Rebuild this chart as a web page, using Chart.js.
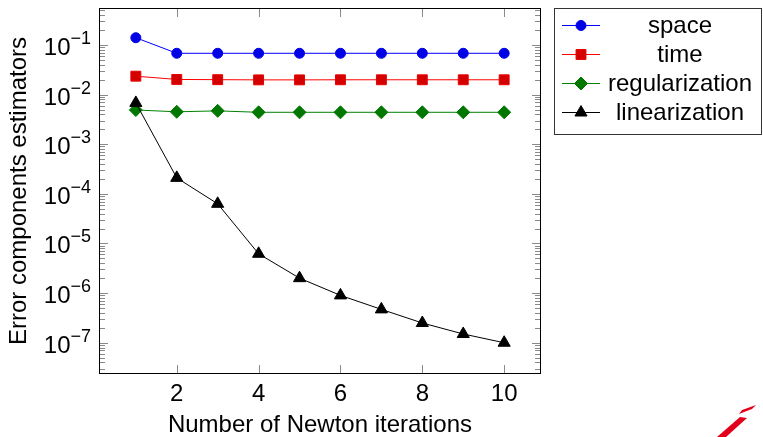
<!DOCTYPE html>
<html>
<head>
<meta charset="utf-8">
<script src="https://cdn.jsdelivr.net/npm/chart.js@4"></script>
<style>
  html, body { margin: 0; padding: 0; background: #fff; }
  #wrap { position: relative; width: 763px; height: 437px; }
  #logo { position: absolute; left: 0; top: 0; pointer-events: none; }
</style>
</head>
<body>
<div id="wrap">
  <canvas id="errChart" width="763" height="437"></canvas>
  <svg id="logo" width="763" height="437">
    <polygon points="717,437 726,437 747,418 740,417" fill="#e3001b"/>
    <polygon points="739,414 742,410 756,405 752,409" fill="#e3001b"/>
  </svg>
</div>
<script>
// values
const iterations = [1, 2, 3, 4, 5, 6, 7, 8, 9, 10];
const spaceEst = [0.14, 0.068, 0.068, 0.068, 0.068, 0.068, 0.068, 0.068, 0.068, 0.068];
const timeEst = [0.0235, 0.0202, 0.0200, 0.0198, 0.0198, 0.0199, 0.0199, 0.0199, 0.0199, 0.0199];
const regEst = [0.0049, 0.0045, 0.0047, 0.0044, 0.0044, 0.0044, 0.0044, 0.0044, 0.0044, 0.0044];
const linEst = [0.0068, 2.1e-4, 6.3e-5, 6.2e-6, 2.0e-6, 9.0e-7, 4.7e-7, 2.5e-7, 1.5e-7, 1.0e-7];
const xTicks = [2, 4, 6, 8, 10];
const yExponents = [-7, -6, -5, -4, -3, -2, -1];

const FONT = '"Liberation Sans", Arial, sans-serif';

function pts(vals) {
    return iterations.map((x, i) => ({ x: x, y: vals[i] }));
}

// draws the pgfplots-like frame, inner ticks, 10^k labels and the legend box
const frame = {
    id: 'frame',
    beforeDatasetsDraw(chart) {
        const ctx = chart.ctx;
        const a = chart.chartArea;
        const xs = chart.scales.x;
        const ys = chart.scales.y;
        ctx.save();
        ctx.strokeStyle = '#8a8a8a';
        ctx.lineWidth = 1;
        ctx.beginPath();
        // x ticks, bottom and top
        xTicks.forEach((v) => {
            const px = Math.round(xs.getPixelForValue(v)) + 0.5;
            ctx.moveTo(px, a.bottom); ctx.lineTo(px, a.bottom - 9);
            ctx.moveTo(px, a.top); ctx.lineTo(px, a.top + 9);
        });
        // y ticks, major and minor, left and right
        for (let k = -8; k <= 0; k++) {
            for (let m = 1; m <= 9; m++) {
                const v = m * Math.pow(10, k);
                if (v < ys.min || v > ys.max) continue;
                const py = Math.round(ys.getPixelForValue(v)) + 0.5;
                const len = m === 1 ? 9 : 6;
                ctx.moveTo(a.left, py); ctx.lineTo(a.left + len, py);
                ctx.moveTo(a.right, py); ctx.lineTo(a.right - len, py);
            }
        }
        ctx.stroke();
        ctx.restore();
    },
    afterDraw(chart) {
        const ctx = chart.ctx;
        const a = chart.chartArea;
        const ys = chart.scales.y;
        ctx.save();
        ctx.strokeStyle = '#000';
        ctx.lineWidth = 1;
        ctx.strokeRect(a.left + 0.5, a.top + 0.5, a.right - a.left - 1, a.bottom - a.top - 1);

        // y tick labels as 10^k
        ctx.fillStyle = '#000';
        ctx.textBaseline = 'alphabetic';
        yExponents.forEach((k) => {
            const py = ys.getPixelForValue(Math.pow(10, k));
            const exp = '\u2212' + Math.abs(k);
            ctx.font = '18px ' + FONT;
            const ew = ctx.measureText(exp).width;
            const rightX = a.left - 8;
            ctx.textAlign = 'left';
            ctx.fillText(exp, rightX - ew, py - 1);
            ctx.font = '24px ' + FONT;
            ctx.textAlign = 'right';
            ctx.fillText('10', rightX - ew, py + 10);
        });

        // legend
        const box = { l: 554.5, t: 8.5, r: 761.5, b: 134.5 };
        ctx.strokeStyle = '#333';
        ctx.strokeRect(box.l, box.t, box.r - box.l, box.b - box.t);
        const rowY = [25, 54, 83, 112];
        ctx.font = '24px ' + FONT;
        ctx.textAlign = 'center';
        ctx.textBaseline = 'middle';
        chart.data.datasets.forEach((ds, i) => {
            const y = rowY[i];
            ctx.strokeStyle = ds.borderColor;
            ctx.lineWidth = 1;
            ctx.beginPath();
            ctx.moveTo(562, y + 0.5);
            ctx.lineTo(600, y + 0.5);
            ctx.stroke();
            ctx.fillStyle = ds.pointBackgroundColor;
            ctx.strokeStyle = ds.pointBorderColor;
            Chart.helpers.drawPoint(ctx, {
                pointStyle: ds.pointStyle,
                radius: ds.pointRadius,
                borderWidth: 1,
                rotation: 0
            }, 581, y + 0.5);
            ctx.fillStyle = '#000';
            ctx.fillText(ds.label, 680, y + 1);
        });
        ctx.restore();
    }
};

const ctx = document.getElementById('errChart');
new Chart(ctx, {
    type: 'line',
    data: {
        datasets: [
            {
                label: 'space',
                data: pts(spaceEst),
                borderColor: '#0000ff',
                pointBackgroundColor: '#0000e6',
                pointBorderColor: '#0000e6',
                pointStyle: 'circle',
                pointRadius: 5,
                order: 4
            },
            {
                label: 'time',
                data: pts(timeEst),
                borderColor: '#ff0000',
                pointBackgroundColor: '#d40000',
                pointBorderColor: '#e80000',
                pointStyle: 'rect',
                pointRadius: 7,
                order: 3
            },
            {
                label: 'regularization',
                data: pts(regEst),
                borderColor: '#008000',
                pointBackgroundColor: '#007800',
                pointBorderColor: '#007800',
                pointStyle: 'rectRot',
                pointRadius: 6.5,
                order: 2
            },
            {
                label: 'linearization',
                data: pts(linEst),
                borderColor: '#000000',
                pointBackgroundColor: '#000000',
                pointBorderColor: '#000000',
                pointStyle: 'triangle',
                pointRadius: 7,
                order: 1
            }
        ]
    },
    options: {
        responsive: false,
        animation: false,
        devicePixelRatio: 1,
        layout: { padding: { left: 0, right: 222, top: 8, bottom: 0 } },
        elements: {
            line: { borderWidth: 1, tension: 0, fill: false },
            point: { borderWidth: 1, hoverRadius: 7 }
        },
        plugins: {
            legend: { display: false },
            tooltip: { enabled: false }
        },
        scales: {
            x: {
                type: 'linear',
                min: 0.1,
                max: 10.9,
                afterBuildTicks: (scale) => {
                    scale.ticks = xTicks.map((v) => ({ value: v }));
                },
                afterFit: (scale) => { scale.height = 63; },
                grid: { display: false, drawTicks: false },
                border: { display: false },
                ticks: {
                    color: '#000',
                    padding: 6,
                    maxRotation: 0,
                    autoSkip: false,
                    font: { family: FONT, size: 24 }
                },
                title: {
                    display: true,
                    text: 'Number of Newton iterations',
                    color: '#000',
                    padding: { top: 0, bottom: -3 },
                    font: { family: FONT, size: 24 }
                }
            },
            y: {
                type: 'logarithmic',
                min: Math.pow(10, -7.63),
                max: Math.pow(10, -0.255),
                afterFit: (scale) => { scale.width = 99; },
                grid: { display: false },
                border: { display: false },
                ticks: { display: false },
                title: {
                    display: true,
                    text: 'Error components estimators',
                    color: '#000',
                    padding: { top: 5, bottom: 0 },
                    font: { family: FONT, size: 24 }
                }
            }
        }
    },
    plugins: [frame]
});
</script>
</body>
</html>
